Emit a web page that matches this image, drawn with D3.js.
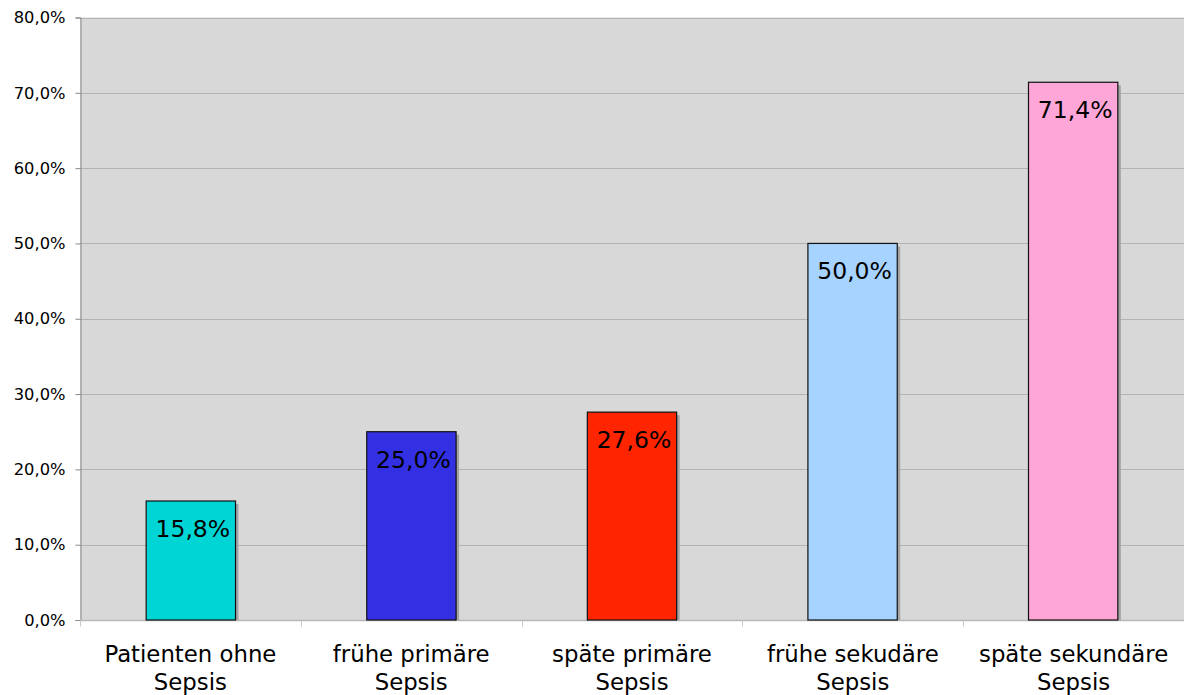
<!DOCTYPE html>
<html>
<head>
<meta charset="utf-8">
<script src="https://cdn.jsdelivr.net/npm/d3@7"></script>
<style>
  html, body { margin: 0; padding: 0; background: #ffffff; }
  svg { display: block; }
  text { font-family: "DejaVu Sans", Verdana, sans-serif; fill: #000; }
</style>
</head>
<body>
<svg id="chart" width="1184" height="695"></svg>
<script>
// Sterblichkeit je Patientengruppe
const categories = [
  ["Patienten ohne", "Sepsis"],
  ["frühe primäre", "Sepsis"],
  ["späte primäre", "Sepsis"],
  ["frühe sekudäre", "Sepsis"],
  ["späte sekundäre", "Sepsis"]
];
const values = [15.8, 25.0, 27.6, 50.0, 71.4];
const barColors = ["#00d5d6", "#3330e4", "#ff2500", "#a6d3ff", "#ffa6d8"];
const yTicks = [0, 10, 20, 30, 40, 50, 60, 70, 80];

const svg = d3.select("#chart");
const margin = { left: 80, right: 0, top: 17.5, bottom: 75 };
const W = 1184, H = 695;
const x0 = margin.left, x1 = W - margin.right;
const y0 = H - margin.bottom, y1 = margin.top;

const fmt = v => d3.format(".1f")(v).replace(".", ",") + "%";

const x = d3.scaleBand()
  .domain(d3.range(categories.length))
  .range([x0, x1])
  .paddingInner(0.595)
  .paddingOuter(0.3);
const xOuter = d3.scaleBand().domain(d3.range(categories.length)).range([x0, x1]);
const y = d3.scaleLinear().domain([0, 80]).range([y0, y1]);

// plot background
svg.append("rect")
  .attr("x", x0).attr("y", y1)
  .attr("width", x1 - x0).attr("height", y0 - y1)
  .attr("fill", "#d8d8d8");

// horizontal gridlines
svg.append("g").selectAll("line").data(yTicks).join("line")
  .attr("x1", x0).attr("x2", x1)
  .attr("y1", d => Math.round(y(d)) + 0.5).attr("y2", d => Math.round(y(d)) + 0.5)
  .attr("stroke", "#b3b3b3").attr("stroke-width", 1);

// y axis
const yAxis = d3.axisLeft(y).tickValues(yTicks).tickFormat(fmt).tickSize(5).tickPadding(10);
const gy = svg.append("g").attr("transform", `translate(${x0 + 0.5},0)`).call(yAxis);
gy.select(".domain").attr("stroke", "#8a8a8a");
gy.selectAll(".tick line").attr("stroke", "#8a8a8a");
gy.selectAll(".tick text")
  .style("font-family", "'DejaVu Sans', Verdana, sans-serif")
  .style("font-size", "16.3px").attr("fill", "#000");

// x axis: boundaries between groups
const gx = svg.append("g").attr("transform", `translate(0,${Math.round(y0) + 0.5})`);
gx.append("line").attr("x1", x0).attr("x2", x1).attr("y1", 0).attr("y2", 0)
  .attr("stroke", "#b8b8b8").attr("stroke-width", 1.5);
gx.selectAll("line.sep").data(d3.range(categories.length + 1)).join("line")
  .attr("class", "sep")
  .attr("x1", d => Math.round(x0 + d * xOuter.bandwidth()) + 0.5)
  .attr("x2", d => Math.round(x0 + d * xOuter.bandwidth()) + 0.5)
  .attr("y1", 0).attr("y2", 6)
  .attr("stroke", "#c8c8c8");

// category labels
const labels = svg.append("g").selectAll("text").data(categories).join("text")
  .attr("text-anchor", "middle")
  .attr("x", (d, i) => xOuter(i) + xOuter.bandwidth() / 2)
  .attr("y", 661.5)
  .style("font-size", "22.8px");
labels.selectAll("tspan").data(d => d).join("tspan")
  .attr("x", function () { return d3.select(this.parentNode).attr("x"); })
  .attr("dy", (d, i) => i === 0 ? 0 : 28.5)
  .text(d => d);

// bars with drop shadow
const bars = svg.append("g");
bars.selectAll("rect.shadow").data(values).join("rect")
  .attr("class", "shadow")
  .attr("x", (d, i) => x(i) + 3)
  .attr("y", d => y(d) + 3)
  .attr("width", x.bandwidth())
  .attr("height", d => y0 - y(d) - 3)
  .attr("fill", "#a3a3a3");
bars.selectAll("rect.bar").data(values).join("rect")
  .attr("class", "bar")
  .attr("x", (d, i) => x(i))
  .attr("y", d => y(d))
  .attr("width", x.bandwidth())
  .attr("height", d => y0 - y(d))
  .attr("fill", (d, i) => barColors[i])
  .attr("stroke", "#111")
  .attr("stroke-width", 1.2);

// value labels
svg.append("g").selectAll("text").data(values).join("text")
  .attr("text-anchor", "middle")
  .attr("x", (d, i) => x(i) + x.bandwidth() / 2 + 2)
  .attr("y", d => y(d) + 36)
  .style("font-size", "23.5px")
  .text(d => fmt(d));
</script>
</body>
</html>
